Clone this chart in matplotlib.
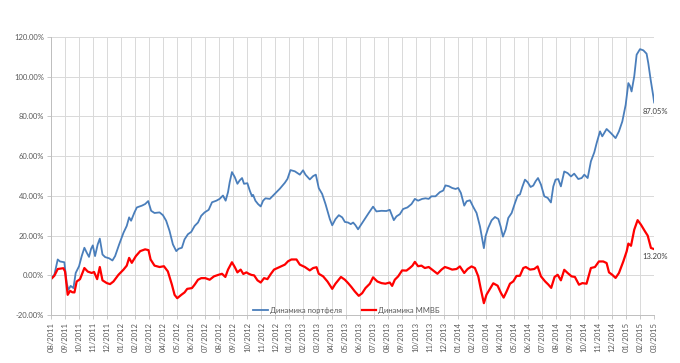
import numpy as np
import matplotlib
matplotlib.use('Agg')
import matplotlib.pyplot as plt

plt.rcParams['font.family'] = ['Lato', 'DejaVu Sans']

# months since 08/2011 -> portfolio / MICEX dynamics, %
t_port = [0.0, 0.24, 0.48, 0.64, 0.95, 1.12, 1.24, 1.4, 1.6, 1.76, 2.0, 2.19, 2.38, 2.55,
          2.71, 2.86, 2.98, 3.14, 3.33, 3.48, 3.67, 3.86, 4.14, 4.38, 4.57, 4.86, 5.17, 5.4,
          5.57, 5.71, 5.95, 6.12, 6.48, 6.71, 6.93, 7.14, 7.38, 7.74, 7.98, 8.21, 8.45, 8.69,
          8.93, 9.1, 9.33, 9.52, 9.76, 10.0, 10.24, 10.48, 10.71, 10.95, 11.24, 11.48, 11.79,
          12.02, 12.26, 12.45, 12.62, 12.74, 12.9, 13.1, 13.29, 13.45, 13.62, 13.76, 14.0,
          14.17, 14.33, 14.41, 14.57, 14.76, 14.95, 15.12, 15.29, 15.6, 15.95, 16.31, 16.67,
          16.86, 17.07, 17.38, 17.74, 17.97, 18.14, 18.45, 18.69, 18.88, 19.09, 19.33, 19.57,
          19.88, 20.05, 20.28, 20.52, 20.76, 20.95, 21.18, 21.37, 21.54, 21.7, 21.89, 22.13,
          22.37, 22.65, 22.96, 23.2, 23.56, 23.91, 24.15, 24.27, 24.44, 24.63, 24.87, 25.1,
          25.41, 25.7, 25.94, 26.17, 26.46, 26.7, 26.93, 27.12, 27.41, 27.72, 27.96, 28.12,
          28.36, 28.6, 28.84, 29.03, 29.22, 29.46, 29.63, 29.87, 30.1, 30.34, 30.58, 30.75,
          30.86, 30.98, 31.17, 31.41, 31.65, 31.89, 32.05, 32.22, 32.41, 32.6, 32.84, 33.08,
          33.27, 33.43, 33.6, 33.79, 33.98, 34.19, 34.38, 34.55, 34.72, 34.93, 35.17, 35.41,
          35.64, 35.81, 35.97, 36.16, 36.35, 36.59, 36.83, 37.07, 37.3, 37.59, 37.83, 38.02,
          38.26, 38.49, 38.73, 38.9, 39.14, 39.3, 39.61, 39.92, 40.25, 40.49, 40.73, 40.97,
          41.16, 41.27, 41.39, 41.58, 41.75, 41.99, 42.23, 42.46, 42.58, 42.75, 42.94, 43.0]
portfolio = [-1.4, 0.3, 8.0, 7.0, 6.6, -3.9, -7.3, -5.3, -6.4, 1.2, 4.6, 9.7, 13.9, 11.4,
             9.3, 13.4, 15.1, 9.7, 15.6, 18.5, 10.5, 9.2, 8.6, 7.5, 9.7, 15.6, 21.5, 24.9,
             29.2, 27.5, 31.7, 34.2, 35.1, 35.9, 37.4, 32.5, 31.4, 31.7, 30.3, 27.5, 22.4, 15.6,
             12.2, 13.4, 13.9, 18.1, 20.7, 21.9, 24.9, 26.6, 30.0, 31.7, 33.0, 36.8, 37.6,
             38.5, 40.2, 37.6, 41.9, 46.9, 52.0, 49.5, 46.1, 47.8, 49.0, 46.1, 46.4,
             42.7, 39.8, 40.5, 37.6, 35.9, 34.7, 37.6, 38.8, 38.5, 41.0, 43.6, 46.6,
             48.6, 53.0, 52.4, 50.7, 52.9, 50.7, 48.3, 50.0, 50.7, 43.9, 41.0, 35.9,
             28.3, 25.2, 28.3, 30.3, 29.2, 26.9, 26.6, 25.8, 26.6, 25.3, 23.2, 25.8,
             28.3, 31.4, 34.6, 32.2, 32.5, 32.4, 33.0, 30.8, 27.8, 29.7, 30.8, 33.4,
             34.2, 35.9, 38.5, 37.6, 38.5, 38.8, 38.5, 39.8, 39.8, 41.9, 42.7, 45.3,
             44.9, 44.0, 43.5, 44.0, 41.5, 35.1, 37.3, 37.8, 34.5, 31.4, 24.7, 18.0,
             13.7, 19.7, 23.9, 27.7, 29.4, 28.4, 24.7, 19.5, 23.0, 28.9, 31.4, 36.5,
             40.2, 40.7, 44.5, 48.2, 46.9, 44.5, 45.2, 47.4, 49.0, 45.7, 39.8, 39.0,
             36.7, 44.8, 48.2, 48.5, 44.8, 52.3, 51.5, 49.8, 51.2, 48.5, 49.0, 50.7,
             49.0, 57.4, 61.9, 66.6, 72.5, 70.0, 73.7, 71.6, 69.1, 72.5, 77.5, 85.9,
             96.8, 95.5, 92.6, 100.2, 111.1, 113.9, 113.3, 111.6, 106.9, 98.5, 90.1, 87.05]

t_micex = [0.0, 0.24, 0.48, 0.88, 1.0, 1.19, 1.36, 1.52, 1.67, 1.83, 2.07, 2.19, 2.38, 2.62,
           2.9, 3.07, 3.29, 3.48, 3.67, 3.98, 4.21, 4.45, 4.81, 5.17, 5.4, 5.57, 5.76, 6.05,
           6.36, 6.71, 6.95, 7.1, 7.38, 7.74, 8.05, 8.33, 8.62, 8.81, 9.0, 9.29, 9.52, 9.71,
           10.05, 10.24, 10.48, 10.71, 11.0, 11.31, 11.62, 11.95, 12.19, 12.43, 12.62, 12.9,
           13.1, 13.29, 13.52, 13.71, 13.93, 14.1, 14.3, 14.48, 14.72, 14.95, 15.19, 15.43,
           15.67, 15.9, 16.31, 16.67, 16.9, 17.14, 17.5, 17.74, 18.1, 18.45, 18.69, 18.93,
           19.09, 19.4, 19.71, 20.05, 20.28, 20.67, 20.95, 21.18, 21.42, 21.66, 21.94, 22.18,
           22.42, 22.73, 22.96, 23.27, 23.56, 23.84, 24.15, 24.32, 24.51, 24.75, 25.03, 25.34,
           25.58, 25.77, 25.94, 26.17, 26.41, 26.65, 26.93, 27.24, 27.55, 27.84, 28.08, 28.31,
           28.6, 28.91, 29.15, 29.46, 29.7, 29.98, 30.22, 30.46, 30.65, 30.86, 31.05, 31.29,
           31.53, 31.84, 32.08, 32.27, 32.48, 32.72, 32.96, 33.19, 33.43, 33.67, 33.85, 34.15,
           34.45, 34.69, 34.93, 35.22, 35.45, 35.66, 35.9, 36.12, 36.35, 36.59, 36.83, 37.11,
           37.35, 37.64, 37.88, 38.18, 38.49, 38.78, 39.06, 39.37, 39.61, 39.78, 40.01, 40.25,
           40.49, 40.8, 41.04, 41.16, 41.35, 41.58, 41.82, 42.06, 42.35, 42.54, 42.77, 43.0]
micex = [-1.9, -0.2, 3.2, 3.6, 2.0, -9.8, -7.8, -8.5, -8.6, -3.1, -1.9, 0.3, 3.7, 1.9,
         1.2, 1.7, -1.9, 4.2, -2.5, -3.9, -4.4, -3.1, 0.3, 2.9, 4.9, 8.8, 6.3, 9.7,
         12.2, 13.1, 12.7, 8.0, 4.9, 4.2, 4.6, 2.0, -4.7, -9.8, -11.5, -9.8, -8.6, -6.8,
         -6.4, -4.7, -2.2, -1.4, -1.4, -2.2, -0.5, 0.3, 0.8, -0.8, 2.9, 6.6,
         4.2, 1.5, 2.9, 0.7, 1.5, 0.8, 0.2, 0.0, -2.5, -3.6, -1.4, -1.9,
         0.7, 2.9, 4.2, 5.4, 7.1, 8.0, 8.0, 5.4, 4.2, 2.5, 3.7, 4.1,
         0.8, -0.5, -3.1, -6.8, -4.2, -0.8, -2.2, -3.9, -5.9, -8.1, -10.3, -9.0,
         -6.4, -4.2, -1.0, -3.1, -3.9, -4.2, -3.6, -5.3, -2.2, -0.5, 2.5, 2.4,
         3.7, 4.9, 6.8, 4.6, 4.9, 3.7, 4.2, 2.5, 0.8, 2.9, 4.2, 3.7,
         2.9, 3.2, 4.5, 1.2, 3.2, 4.5, 3.7, -0.5, -7.2, -14.0, -9.7, -6.9,
         -4.0, -5.2, -8.9, -11.2, -8.1, -4.2, -3.0, -0.3, -0.2, 3.7, 4.2, 2.9,
         3.2, 4.5, -0.5, -3.0, -4.6, -6.3, -0.8, 0.3, -2.5, 2.8, 1.2, -0.5,
         -0.8, -4.7, -3.9, -4.2, 3.7, 4.2, 7.0, 7.0, 6.2, 1.5, 0.3, -1.3,
         1.2, 7.0, 12.1, 16.0, 14.9, 23.0, 27.8, 25.5, 22.1, 20.0, 13.8, 13.2]

month_labels = ['08/2011', '09/2011', '10/2011', '11/2011', '12/2011',
                '01/2012', '02/2012', '03/2012', '04/2012', '05/2012', '06/2012',
                '07/2012', '08/2012', '09/2012', '10/2012', '11/2012', '12/2012',
                '01/2013', '02/2013', '03/2013', '04/2013', '05/2013', '06/2013',
                '07/2013', '08/2013', '09/2013', '10/2013', '11/2013', '12/2013',
                '01/2014', '02/2014', '03/2014', '04/2014', '05/2014', '06/2014',
                '07/2014', '08/2014', '09/2014', '10/2014', '11/2014', '12/2014',
                '01/2015', '02/2015', '03/2015']

grey = '#595959'

fig = plt.figure(figsize=(6.8, 3.63), dpi=100)
ax = fig.add_axes([0.075, 0.132, 0.887, 0.766])

ax.plot(t_port, portfolio, color='#4a7ebb', lw=1.3, label=u'Динамика портфеля')
ax.plot(t_micex, micex, color='#ff0000', lw=1.6, label=u'Динамика ММВБ')

ax.set_xlim(0, len(month_labels) - 1)
ax.set_ylim(-20, 120)
ax.set_yticks(np.arange(-20, 121, 20))
ax.set_yticklabels(['%.2f%%' % v for v in np.arange(-20, 121, 20)])
ax.set_xticks(np.arange(len(month_labels)))
ax.set_xticklabels(month_labels, rotation=90)
ax.tick_params(axis='both', labelsize=5.5, colors=grey, length=3, width=0.6,
               color='#bfbfbf', pad=2)
ax.grid(True, color='#d9d9d9', lw=0.7)
ax.set_axisbelow(True)
for side in ('top', 'right'):
    ax.spines[side].set_visible(False)
for side in ('left', 'bottom'):
    ax.spines[side].set_color('#bfbfbf')
    ax.spines[side].set_linewidth(0.7)

ax.annotate('%.2f%%' % portfolio[-1], (t_port[-1], portfolio[-1]),
            xytext=(1, -4), textcoords='offset points', ha='center', va='top',
            fontsize=5.5, color='#404040')
ax.annotate('%.2f%%' % micex[-1], (t_micex[-1], micex[-1]),
            xytext=(1, -3), textcoords='offset points', ha='center', va='top',
            fontsize=5.5, color='#404040')

ax.legend(loc='center', bbox_to_anchor=(0.49, 0.016), ncol=2, frameon=False,
          fontsize=5.5, handlelength=1.9, handletextpad=0.3, columnspacing=2.6,
          labelcolor=grey)

fig.savefig('out.png', dpi=100)
